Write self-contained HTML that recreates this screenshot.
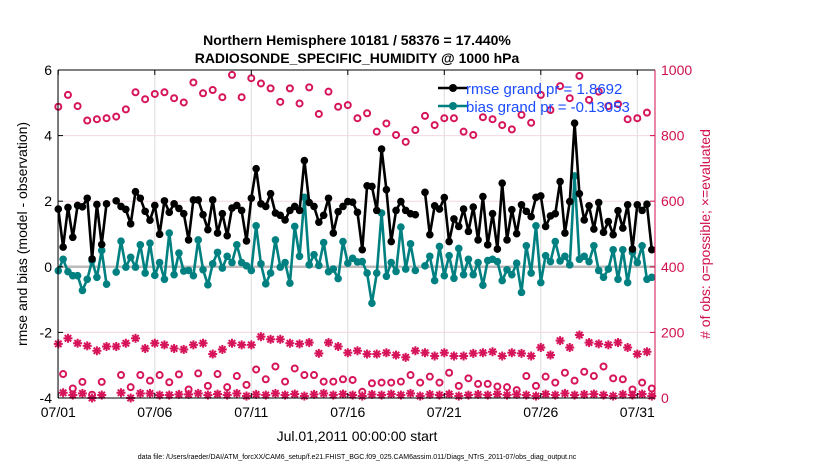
<!DOCTYPE html>
<html><head><meta charset="utf-8"><style>
body{margin:0;background:#fff;}
svg{display:block;font-family:"Liberation Sans",sans-serif;}
</style></head><body>
<svg id="chart" width="830" height="470" viewBox="0 0 830 470">
<text x="357" y="45" text-anchor="middle" font-size="14" font-weight="bold">Northern Hemisphere 10181 / 58376 = 17.440%</text>
<text x="357" y="63" text-anchor="middle" font-size="14" font-weight="bold">RADIOSONDE_SPECIFIC_HUMIDITY @ 1000 hPa</text>
<g id="grid"></g>
<g id="obs"></g>
<g id="series"></g>
<g id="axes"></g>
<g>
<line x1="438" y1="88" x2="468" y2="88" stroke="#000" stroke-width="2.5"/>
<circle cx="453" cy="88" r="4" fill="#000"/>
<text x="466" y="94" font-size="15" fill="#1a4cff">rmse grand pr = 1.8692</text>
<line x1="438" y1="106" x2="468" y2="106" stroke="#008080" stroke-width="2.5"/>
<circle cx="453" cy="106" r="4" fill="#008080"/>
<text x="466" y="112" font-size="15" fill="#1a4cff">bias grand pr = -0.13053</text>
</g>
<text x="357" y="441" text-anchor="middle" font-size="14">Jul.01,2011 00:00:00 start</text>
<text transform="translate(27,234) rotate(-90)" text-anchor="middle" font-size="14">rmse and bias (model - observation)</text>
<text transform="translate(710,234) rotate(-90)" text-anchor="middle" font-size="14" fill="#d0104c"># of obs: o=possible; ×=evaluated</text>
<text x="357" y="459" text-anchor="middle" font-size="7">data file: /Users/raeder/DAI/ATM_forcXX/CAM6_setup/f.e21.FHIST_BGC.f09_025.CAM6assim.011/Diags_NTrS_2011-07/obs_diag_output.nc</text>
</svg>
<script>
const rmse=[1.76,0.60,1.81,0.90,1.87,1.83,2.09,0.24,1.90,0.68,1.92,null,2.01,1.84,1.75,1.31,2.29,2.09,1.69,1.42,1.87,0.99,2.01,1.66,1.92,1.78,1.62,0.82,2.04,2.04,1.59,1.13,
2.04,1.03,1.62,0.95,1.79,1.87,1.72,0.79,2.09,2.99,1.92,1.84,2.23,1.64,1.57,1.43,1.72,1.84,1.72,3.24,1.96,1.84,1.36,1.57,2.09,1.03,1.68,1.84,1.99,1.97,1.66,
0.52,2.47,2.45,1.72,3.59,2.35,0.77,1.72,1.99,1.72,1.62,1.59,null,2.27,0.98,1.86,1.76,2.11,0.77,1.46,1.23,1.76,1.08,1.82,0.82,2.14,0.67,1.62,0.54,2.55,0.82,
1.74,1.01,1.89,1.69,1.53,2.12,2.16,1.23,1.55,1.62,2.60,1.03,1.99,4.38,2.23,1.43,1.86,1.15,1.96,1.05,1.38,0.98,1.71,1.18,1.89,0.54,1.89,1.72,1.91,0.52];
const bias=[-0.12,0.23,-0.15,-0.27,-0.27,-0.72,-0.38,0.19,-0.32,0.50,-0.53,null,-0.16,0.78,-0.01,0.29,-0.01,0.67,-0.19,0.72,-0.26,0.13,-0.38,1.03,-0.24,0.42,-0.13,-0.11,-0.27,0.82,-0.09,-0.55,
0.09,0.44,-0.04,0.32,0.13,0.67,0.13,0.03,-0.11,1.25,0.09,-0.52,-0.19,0.82,-0.01,0.13,-0.50,1.23,0.32,2.12,0.06,0.37,0.04,0.74,-0.15,-0.07,-0.36,0.77,0.11,0.26,0.15,
0.16,-0.19,-1.11,-0.19,1.64,-0.29,0.13,-0.14,1.21,-0.07,0.70,-0.11,null,0.03,0.32,-0.42,0.62,-0.27,0.34,-0.35,0.56,-0.24,0.23,-0.24,0.13,-0.56,0.19,0.23,0.16,-0.42,-0.09,
-0.24,0.11,-0.78,0.64,-0.19,1.25,-0.48,0.34,0.16,0.77,0.18,0.32,0.06,2.77,0.23,0.32,0.16,0.64,-0.11,-0.32,-0.07,0.52,-0.38,0.52,-0.48,0.44,0.13,0.64,-0.38,-0.32];
const possibleMain=[888,924,890,846,850,853,858,880,932,911,927,932,914,901,962,929,
939,917,985,917,975,959,944,903,944,898,947,866,934,888,893,853,
868,812,837,802,781,817,860,832,853,853,812,802,856,850,832,
819,863,839,924,878,951,914,982,909,934,890,896,850,853,870];
const possibleOff=[73,29,49,10,49,null,70,33,70,53,70,48,72,26,75,37,
73,33,67,40,87,57,96,50,90,70,70,50,50,57,55,
19,45,47,47,50,70,47,65,47,77,37,60,43,43,35,33,
24,67,37,65,47,77,53,80,67,96,60,57,26,47,29];
const evaluatedMain=[165,182,167,159,144,157,157,167,182,151,167,162,151,148,162,167,
134,148,167,162,162,187,179,179,167,165,169,136,169,157,138,144,
134,134,138,131,124,144,138,128,138,128,128,136,138,141,128,
138,136,128,154,131,175,154,192,169,165,162,169,154,134,141];
const evaluatedOff=[16,9,14,0,9,null,16,0,14,14,9,9,11,11,14,9,
12,9,14,6,11,9,14,9,12,6,11,14,9,12,9,
6,11,9,12,9,14,6,11,9,12,6,9,11,9,12,9,
11,9,6,12,9,14,9,11,12,9,6,11,9,12,6];
const xTickLabels=["07/01","07/06","07/11","07/16","07/21","07/26","07/31"];
const xTickIdx=[0,20,40,60,80,100,120];
const yLeftTicks=[6,4,2,0,-2,-4];
const yRightTicks=[1000,800,600,400,200,0];

const NS="http://www.w3.org/2000/svg";
const L=58,R=655,T=70,B=398;
const X=i=>58.3+i*4.825;
const YL=v=>T+(6-v)/10*(B-T);
const YR=v=>B-v/1000*(B-T);
function mk(tag,attrs,parent){const e=document.createElementNS(NS,tag);for(const k in attrs)e.setAttribute(k,attrs[k]);parent.appendChild(e);return e;}
const grid=document.getElementById('grid'),axes=document.getElementById('axes'),ser=document.getElementById('series'),obs=document.getElementById('obs');
const CR="#d6145a";

mk('rect',{x:L,y:T,width:R-L,height:B-T,fill:'#fff'},grid);
xTickIdx.forEach((k,j)=>{
 const x=X(k);
 const g=mk('line',{x1:x,x2:x,y1:T,y2:B,stroke:'#dcdcdc','stroke-width':1},grid);
 
 
 const t=mk('text',{x:x,y:417,'text-anchor':'middle','font-size':14},axes);
 t.textContent=xTickLabels[j];
 
 
 mk('line',{x1:x,x2:x,y1:B,y2:B-5,stroke:'#000'},axes);
 mk('line',{x1:x,x2:x,y1:T,y2:T+5,stroke:'#000'},axes);
});
yRightTicks.forEach(v=>{
 const y=YR(v);
 const g=mk('line',{x1:L,x2:R,y1:y,y2:y,stroke:'#f2d8e2','stroke-width':1},grid);
 
 
 const t=mk('text',{x:R+6,y:y+5,'font-size':14,fill:'#d0104c'},axes);
 t.textContent=v;
 
 
 mk('line',{x1:R,x2:R-5,y1:y,y2:y,stroke:'#d0104c'},axes);
});
yLeftTicks.forEach(v=>{
 const y=YL(v);
 const t=mk('text',{x:52,y:y+5,'text-anchor':'end','font-size':14},axes);
 t.textContent=v;
 
 
 mk('line',{x1:L,x2:L+5,y1:y,y2:y,stroke:'#000'},axes);
});
const zl=mk('line',{x1:L,x2:R,y1:YL(0),y2:YL(0),stroke:'#bbb','stroke-width':2.5},grid);


mk('line',{x1:L,x2:R,y1:T,y2:T,stroke:'#000'},axes);
mk('line',{x1:L,x2:R,y1:B,y2:B,stroke:'#000'},axes);
mk('line',{x1:L,x2:L,y1:T,y2:B,stroke:'#000'},axes);
mk('line',{x1:R,x2:R,y1:T,y2:B,stroke:'#d0104c'},axes);

function obsPoint(i,v,kind){
 if(v==null)return;
 const x=X(i),y=YR(v);
 if(kind==='o'){
  const c=mk('circle',{cx:x,cy:y,r:3,fill:'none',stroke:CR,'stroke-width':2},obs);
  
  
 }else{
  const g=mk('g',{stroke:CR,'stroke-width':2},obs);
  
  
  mk('line',{x1:x-4.5,x2:x+4.5,y1:y,y2:y},g);
  mk('line',{x1:x,x2:x,y1:y-4.5,y2:y+4.5},g);
  mk('line',{x1:x-3.2,x2:x+3.2,y1:y-3.2,y2:y+3.2},g);
  mk('line',{x1:x+3.2,x2:x-3.2,y1:y-3.2,y2:y+3.2},g);
 }
}
possibleMain.forEach((v,j)=>obsPoint(2*j,v,'o'));
possibleOff.forEach((v,j)=>obsPoint(2*j+1,v,'o'));
evaluatedMain.forEach((v,j)=>obsPoint(2*j,v,'x'));
evaluatedOff.forEach((v,j)=>obsPoint(2*j+1,v,'x'));

function drawSeries(arr,color,name){
 let d='',pen=false;
 arr.forEach((v,i)=>{if(v==null){pen=false;return;}d+=(pen?'L':'M')+X(i).toFixed(1)+' '+YL(v).toFixed(1);pen=true;});
 const p=mk('path',{d:d,fill:'none',stroke:color,'stroke-width':2.6,'stroke-linejoin':'round'},ser);
 
 
 arr.forEach((v,i)=>{if(v==null)return;
  const c=mk('circle',{cx:X(i),cy:YL(v),r:3.8,fill:color},ser);
  
  
 });
}
drawSeries(bias,'#008080','bias');
drawSeries(rmse,'#000','rmse');
</script>
</body></html>
